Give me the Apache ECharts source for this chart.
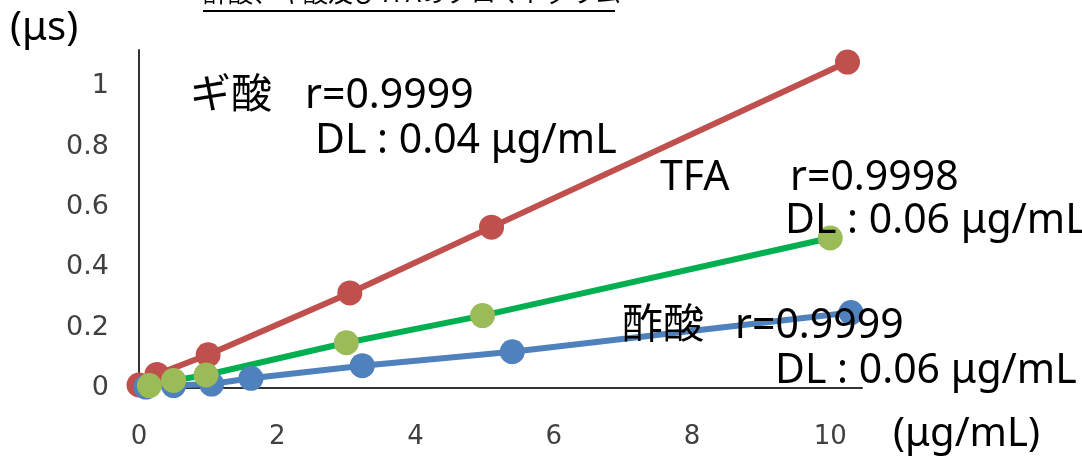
<!DOCTYPE html>
<html>
<head>
<meta charset="utf-8">
<script src="https://cdn.jsdelivr.net/npm/echarts@6/dist/echarts.min.js"></script>
<style>html,body{margin:0;padding:0;background:#fff}#c{width:1082px;height:456px}</style>
</head>
<body>
<div id="c"></div>
<script>
const titleText = '酢酸、ギ酸及びTFAのクロマトグラム';
const yUnit = '(μs)';
const xUnit = '(μg/mL)';
const seriesNames = ['ギ酸', '酢酸', 'TFA'];
const formicData = [[0, 0.01], [0.26, 0.045], [1.0, 0.11], [3.05, 0.315], [5.1, 0.533], [10.25, 1.08]];
const aceticData = [[0.1, 0.003], [0.5, 0.008], [1.05, 0.013], [1.62, 0.032], [3.23, 0.074], [5.4, 0.12], [10.3, 0.25]];
const tfaData = [[0.15, 0.008], [0.5, 0.025], [0.97, 0.043], [3.0, 0.15], [4.97, 0.24], [10.0, 0.497]];
const annotations = [
  ['ギ酸', 190, 95], ['r=0.9999', 305, 95], ['DL : 0.04 μg/mL', 315, 140],
  ['TFA', 660, 177], ['r=0.9998', 790, 177], ['DL : 0.06 μg/mL', 785, 220],
  ['酢酸', 622, 325], ['r=0.9999', 735, 325], ['DL : 0.06 μg/mL', 775, 370]
];

const chart = echarts.init(document.getElementById('c'));
const annFont = '"Noto Sans", "Noto Sans CJK JP", sans-serif';
const graphics = annotations.map(a => ({
  type: 'text', left: a[1], top: a[2] - 19, z: 100,
  style: { text: a[0], font: '41px ' + annFont, fill: '#000' }
}));
graphics.push({ type: 'text', left: 203, top: -20, z: 100,
  style: { text: titleText, font: '25px "Noto Sans CJK JP", sans-serif', fill: '#000' } });
graphics.push({ type: 'line', z: 100, shape: { x1: 203, y1: 11, x2: 615, y2: 11 },
  style: { stroke: '#000', lineWidth: 2 } });
graphics.push({ type: 'text', left: 10, top: 9, z: 100,
  style: { text: yUnit, font: '40px ' + annFont, fill: '#000' } });
graphics.push({ type: 'text', left: 893, top: 415, z: 100,
  style: { text: xUnit, font: '40px ' + annFont, fill: '#000' } });

function mk(name, data, lineColor, markColor) {
  return {
    name: name, type: 'line', data: data, symbol: 'circle', symbolSize: 25,
    lineStyle: { color: lineColor, width: 6 },
    itemStyle: { color: markColor },
    animation: false
  };
}

chart.setOption({
  animation: false,
  grid: { left: 139, right: 220, top: 50, bottom: 68 },
  xAxis: {
    type: 'value', min: 0, max: 10.46, interval: 2,
    axisLine: { show: true, lineStyle: { color: '#333', width: 2 } },
    axisTick: { show: false }, splitLine: { show: false },
    axisLabel: { showMaxLabel: false, margin: 36, fontFamily: 'DejaVu Sans', fontSize: 26, color: '#404040' }
  },
  yAxis: {
    type: 'value', min: 0, max: 1.12, interval: 0.2,
    axisLine: { show: true, lineStyle: { color: '#333', width: 2 } },
    axisTick: { show: false }, splitLine: { show: false },
    axisLabel: { showMaxLabel: false, margin: 30, fontFamily: 'DejaVu Sans', fontSize: 27, color: '#404040' }
  },
  series: [
    mk(seriesNames[0], formicData, '#C0504D', '#C0504D'),
    mk(seriesNames[1], aceticData, '#4F81BD', '#4F81BD'),
    mk(seriesNames[2], tfaData, '#00B050', '#9BBB59')
  ],
  graphic: graphics
});
</script>
</body>
</html>
